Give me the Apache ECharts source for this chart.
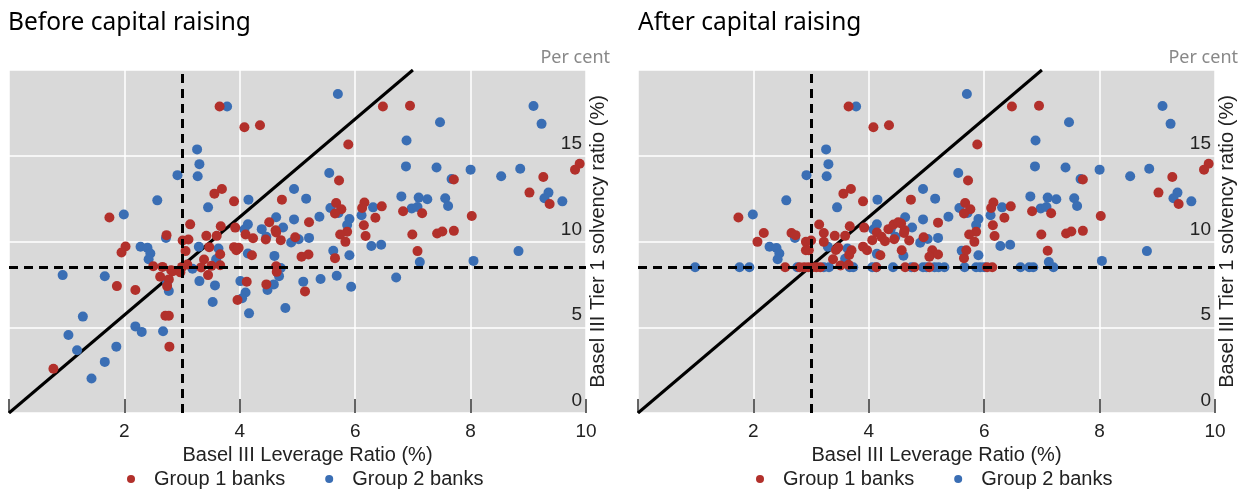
<!DOCTYPE html>
<html>
<head>
<meta charset="utf-8">
<script src="https://cdn.jsdelivr.net/npm/echarts@6/dist/echarts.min.js"></script>
<style>
html,body{margin:0;padding:0;background:#fff;}
#chart{width:1250px;height:490px;}
</style>
</head>
<body>
<div id="chart"></div>
<script>
// ---------- Data ----------
const panelTitles = ['Before capital raising', 'After capital raising'];
const seriesNames = ['Group 1 banks', 'Group 2 banks'];
const xAxisName = 'Basel III Leverage Ratio (%)';
const yAxisName = 'Basel III Tier 1 solvency ratio (%)';
const unitLabel = 'Per cent';
const xTicks = [0, 2, 4, 6, 8, 10];
const yTicks = [0, 5, 10, 15, 20];
const leverageMinimum = 3;     // vertical dashed line
const tier1Minimum = 8.5;      // horizontal dashed line
const diagonalLine = [[0, 0], [7, 20]];

const beforeGroup1 = [
  [3.65,17.87],[4.08,16.66],[4.35,16.78],[3.69,13.06],[3.56,12.79],[3.90,12.34],[4.73,12.44],[1.74,11.40],
  [3.14,11.0],[3.67,10.89],[3.92,10.81],[4.51,11.12],[4.62,10.66],[4.63,10.52],[4.10,10.41],[2.73,10.37],
  [3.42,10.33],[3.60,10.33],[4.23,10.19],[4.45,10.12],[4.71,10.08],[4.96,10.25],[3.01,10.06],[3.11,10.12],[5.20,11.12],
  [2.02,9.71],[1.95,9.36],[2.50,8.56],[2.66,8.52],[2.81,8.33],[2.84,8.27],[2.62,7.94],[2.77,7.79],[2.74,7.40],
  [1.87,7.40],[2.19,7.17],[2.71,5.67],[2.77,5.67],[2.78,3.87],[0.77,2.58],
  [3.06,9.44],[3.00,8.52],[2.97,8.20],[3.09,8.66],[3.33,8.49],[3.47,9.67],[3.38,8.95],[3.51,8.58],[3.66,8.62],
  [3.66,9.26],[3.45,8.04],[3.90,9.67],[3.94,9.49],[3.98,9.63],[4.21,9.20],[4.12,7.65],[3.96,6.59],[4.63,8.56],
  [4.64,8.23],[4.46,7.50],[5.07,9.11],[5.19,9.24],[5.13,7.09],
  [6.48,17.87],[6.95,17.92],[5.88,15.66],[9.89,14.53],[9.81,14.19],[9.26,13.76],[7.71,13.62],[5.72,13.56],
  [9.02,12.85],[9.37,12.19],[6.83,11.76],[7.16,11.65],[8.02,11.49],[6.46,12.05],[6.16,12.27],[6.12,11.95],
  [6.35,11.38],[6.15,10.95],[6.18,10.32],[5.67,12.25],[5.76,11.88],[5.65,11.63],[5.86,10.57],[5.74,10.41],
  [5.83,9.98],[6.99,10.41],[7.42,10.47],[7.51,10.58],[7.71,10.62],[7.08,9.44],[5.65,9.03]
];
const beforeGroup2 = [
  [3.78,17.87],[3.26,15.37],[3.30,14.51],[2.92,13.87],[3.27,13.80],[4.94,13.06],[4.15,12.44],[2.57,12.40],
  [3.45,11.99],[1.99,11.57],[4.63,11.41],[4.94,11.29],[4.14,11.0],[4.75,10.82],[4.38,10.72],[4.08,10.70],
  [4.46,10.27],[2.72,10.2],[4.89,9.94],[5.02,10.13],[5.20,10.21],
  [2.28,9.69],[2.40,9.63],[2.45,9.30],[2.42,8.97],[2.74,7.62],[2.77,7.11],[0.93,8.04],[1.66,7.97],[1.28,5.62],
  [2.19,5.05],[2.30,4.73],[2.67,4.77],[1.03,4.55],[1.18,3.66],[1.86,3.87],[1.66,2.98],[1.43,2.01],
  [3.18,8.41],[3.29,9.69],[3.59,8.97],[3.63,9.59],[3.30,7.69],[3.57,7.44],[3.53,6.47],[4.14,9.30],[4.01,7.69],
  [4.10,7.03],[4.04,6.69],[4.16,5.81],[4.60,9.16],[4.71,8.45],[4.68,7.98],[4.59,7.50],[4.48,7.17],[4.79,6.12],[5.10,7.66],
  [5.70,18.6],[7.47,16.95],[6.89,15.89],[9.09,17.9],[9.23,16.86],[6.88,14.38],[7.41,14.32],[8.00,14.19],
  [8.53,13.80],[8.86,14.24],[7.67,13.64],[5.55,13.99],[5.15,12.5],[9.35,12.85],[9.28,12.52],[9.59,12.34],
  [6.80,12.63],[7.10,12.56],[7.25,12.46],[7.56,12.52],[7.61,12.07],[6.98,11.93],[7.08,12.01],[6.31,11.99],
  [6.11,11.53],[5.57,11.95],[5.71,11.66],[5.38,11.44],[5.90,11.31],[5.86,10.96],[6.28,9.74],[6.45,9.81],
  [7.12,8.80],[6.71,7.90],[5.62,9.46],[5.90,9.20],[5.68,8.0],[5.40,7.81],[5.93,7.36],[8.05,8.87],[8.83,9.44]
];
const afterGroup1 = [
  [3.65,17.87],[4.08,16.66],[4.35,16.78],[3.69,13.06],[3.56,12.79],[3.90,12.34],[4.73,12.44],[1.74,11.40],
  [6.48,17.87],[6.95,17.92],[5.88,15.66],[9.89,14.53],[9.81,14.19],[9.26,13.76],[7.71,13.62],[5.72,13.56],
  [9.02,12.85],[9.37,12.19],[6.83,11.76],[7.16,11.65],[8.02,11.49],[6.46,12.05],[6.16,12.27],[6.12,11.95],
  [6.35,11.38],[6.15,10.95],[6.18,10.32],[5.67,12.25],[5.76,11.88],[5.65,11.63],[5.86,10.57],[5.74,10.41],
  [5.83,9.98],[6.99,10.41],[7.42,10.47],[7.51,10.58],[7.71,10.62],[7.10,9.46],[5.65,9.03],[5.69,9.49],
  [2.07,9.98],[2.18,10.50],[2.66,10.50],[2.73,10.37],[2.91,9.98],[3.00,10.06],[2.91,9.49],[2.96,9.49],
  [3.14,10.99],[3.22,10.50],[3.22,9.98],[3.41,10.33],[3.47,9.65],[3.43,9.50],[3.38,8.97],[3.51,8.60],
  [3.65,8.64],[3.59,10.33],[3.67,10.89],[3.70,9.49],[3.66,9.22],[3.92,10.81],[3.90,9.70],[3.97,9.49],
  [4.06,10.08],[4.14,10.52],[4.22,10.27],[4.28,10.02],[4.20,9.20],[4.34,10.72],[4.43,10.99],[4.51,11.12],
  [4.56,11.05],[4.62,10.66],[4.61,10.50],[4.44,10.13],[4.57,9.49],[4.70,10.06],[4.95,10.25],[5.10,9.49],
  [5.05,9.11],[5.20,9.24],[5.20,11.10],
  [2.55,8.5],[2.80,8.5],[2.88,8.5],[2.95,8.5],[3.02,8.5],[3.09,8.5],[3.16,8.5],[4.13,8.5],[4.63,8.5],
  [4.79,8.5],[5.05,8.5],[6.05,8.5],[6.14,8.5]
];
const afterGroup2 = [
  [3.78,17.87],[3.26,15.37],[3.30,14.51],[2.92,13.87],[3.27,13.80],[4.94,13.06],[4.15,12.44],[2.57,12.40],
  [3.45,11.99],[1.99,11.57],[4.63,11.41],[4.94,11.29],[4.14,11.0],[4.75,10.82],[4.38,10.72],[4.08,10.70],
  [4.46,10.27],[2.72,10.2],[4.89,9.93],[5.02,10.15],[5.20,10.21],[2.28,9.69],[2.40,9.62],[2.45,9.30],
  [2.42,8.96],[3.29,9.69],[3.59,8.99],[3.63,9.59],[4.14,9.28],[4.60,9.17],
  [5.70,18.6],[7.47,16.95],[6.89,15.89],[9.09,17.9],[9.23,16.86],[6.88,14.38],[7.41,14.32],[8.00,14.19],
  [8.53,13.80],[8.86,14.24],[7.67,13.64],[5.55,13.99],[5.15,12.5],[9.35,12.85],[9.28,12.52],[9.59,12.34],
  [6.80,12.63],[7.10,12.56],[7.25,12.46],[7.56,12.52],[7.61,12.07],[6.98,11.93],[7.08,12.01],[6.31,11.99],
  [6.11,11.53],[5.57,11.95],[5.71,11.66],[5.38,11.44],[5.90,11.31],[5.86,10.96],[6.28,9.74],[6.45,9.81],
  [7.12,8.80],[5.61,9.46],[5.90,9.20],[8.04,8.87],[8.82,9.44],
  [0.99,8.5],[1.76,8.5],[1.93,8.5],[2.76,8.5],[3.22,8.5],[3.31,8.5],[3.67,8.5],[3.73,8.5],[4.06,8.5],
  [4.13,8.5],[4.42,8.5],[4.74,8.5],[4.94,8.5],[5.00,8.5],[5.14,8.5],[5.21,8.5],[5.31,8.5],[5.66,8.5],
  [5.86,8.5],[5.93,8.5],[6.00,8.5],[6.63,8.5],[6.78,8.5],[6.85,8.5],[7.20,8.5]
];

// ---------- Styles ----------
const RED = '#B2302B';
const BLUE = '#3A6EB4';
const PLOT_BG = '#d9d9d9';
const TEXT = '#222';
const AXIS_FONT = "'Liberation Sans', Arial, sans-serif";
const TITLE_FONT = "'Noto Sans', 'Open Sans', sans-serif";

const panels = [
  { left: 9, g1: beforeGroup1, g2: beforeGroup2 },
  { left: 638, g1: afterGroup1, g2: afterGroup2 }
];

const option = {
  animation: false,
  backgroundColor: '#fff',
  title: [
    { text: panelTitles[0], left: 3, top: 6, textStyle: { fontSize: 24.5, fontWeight: 'normal', color: '#000', fontFamily: TITLE_FONT } },
    { text: panelTitles[1], left: 633, top: 6, textStyle: { fontSize: 24.5, fontWeight: 'normal', color: '#000', fontFamily: TITLE_FONT } },
    { text: unitLabel, right: 635, top: 44, textStyle: { fontSize: 18, fontWeight: 'normal', color: '#888', fontFamily: TITLE_FONT } },
    { text: unitLabel, right: 7, top: 44, textStyle: { fontSize: 18, fontWeight: 'normal', color: '#888', fontFamily: TITLE_FONT } }
  ],
  legend: panels.map((p, i) => ({
    data: seriesNames,
    left: p.left + 113,
    top: 464,
    icon: 'circle',
    itemWidth: 36,
    itemHeight: 8,
    itemGap: 40,
    selectedMode: false,
    textStyle: { fontSize: 20, color: TEXT, fontFamily: AXIS_FONT }
  })),
  grid: panels.map(p => ({
    left: p.left, top: 70, width: 577, height: 343,
    show: true, backgroundColor: PLOT_BG, borderWidth: 0
  })),
  xAxis: panels.map((p, i) => ({
    gridIndex: i, type: 'value',
    min: xTicks[0], max: xTicks[xTicks.length - 1], interval: 2,
    name: xAxisName, nameLocation: 'middle', nameGap: 29,
    nameTextStyle: { fontSize: 20, color: TEXT, fontFamily: AXIS_FONT, padding: [0, 0, 0, 20] },
    axisLine: { show: false },
    axisTick: { show: true, inside: true, length: 14, lineStyle: { color: '#333', width: 1.5 } },
    splitLine: { show: true, lineStyle: { color: '#fff', width: 1.5 } },
    axisLabel: { fontSize: 19, color: TEXT, fontFamily: AXIS_FONT, margin: 9,
      formatter: v => (v === 0 ? '' : String(v)) }
  })),
  yAxis: panels.map((p, i) => ({
    gridIndex: i, type: 'value', position: 'right',
    min: yTicks[0], max: yTicks[yTicks.length - 1], interval: 5,
    name: yAxisName, nameLocation: 'middle', nameRotate: 90, nameGap: 2,
    nameTextStyle: { fontSize: 20, color: TEXT, fontFamily: AXIS_FONT },
    axisLine: { show: false },
    axisTick: { show: false },
    splitLine: { show: true, lineStyle: { color: '#fff', width: 1.5 } },
    axisLabel: { inside: true, fontSize: 19, color: TEXT, fontFamily: AXIS_FONT, margin: 4,
      verticalAlign: 'bottom', lineHeight: 24,
      formatter: v => (v === 20 ? '' : String(v)) }
  })),
  series: []
};

panels.forEach((p, i) => {
  option.series.push({
    type: 'line', xAxisIndex: i, yAxisIndex: i,
    data: diagonalLine, symbol: 'none', silent: true,
    lineStyle: { color: '#000', width: 3 },
    z: 2,
    markLine: {
      silent: true, symbol: 'none', label: { show: false },
      lineStyle: { color: '#000', width: 3, type: [9, 6] },
      data: [{ xAxis: leverageMinimum }, { yAxis: tier1Minimum }]
    }
  });
  option.series.push({
    name: seriesNames[1], type: 'scatter', xAxisIndex: i, yAxisIndex: i,
    data: p.g2, symbolSize: 10, itemStyle: { color: BLUE, opacity: 1 }, z: 3
  });
  option.series.push({
    name: seriesNames[0], type: 'scatter', xAxisIndex: i, yAxisIndex: i,
    data: p.g1, symbolSize: 10, itemStyle: { color: RED, opacity: 1 }, z: 4
  });
});

const chart = echarts.init(document.getElementById('chart'), null, { renderer: 'canvas' });
chart.setOption(option);
</script>
</body>
</html>
